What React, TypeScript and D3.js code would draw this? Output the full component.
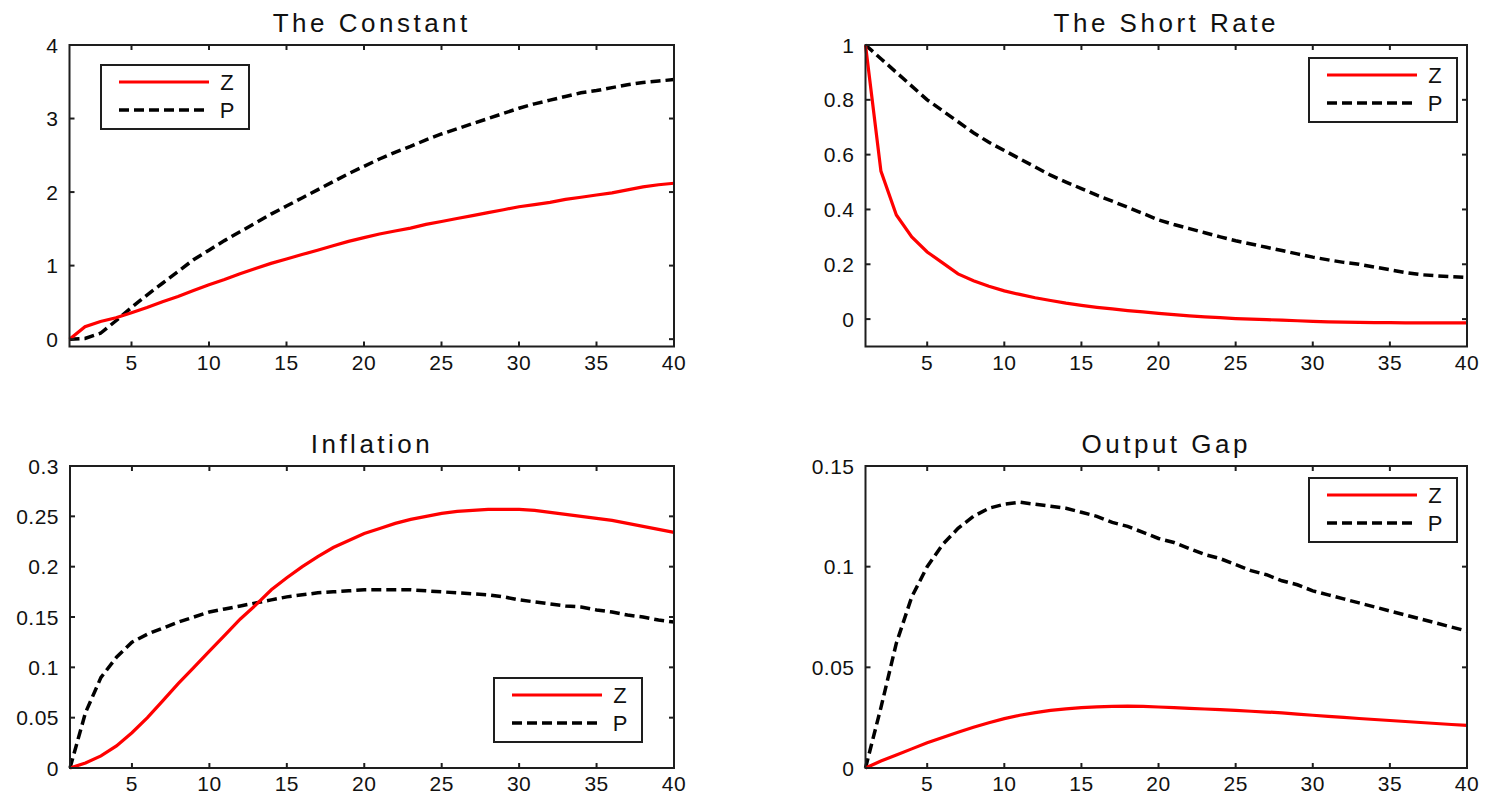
import React from "react";
import * as d3 from "d3";

// Horizon (quarters)
const horizon = d3.range(1, 41);
const xTicks = [5, 10, 15, 20, 25, 30, 35, 40];

const seriesNames = ["Z", "P"];

// The Constant
const constantZ = [0, 0.17, 0.24, 0.29, 0.36, 0.43, 0.51, 0.58, 0.66, 0.74, 0.81, 0.89, 0.96, 1.03, 1.09, 1.15, 1.21, 1.27, 1.33, 1.38, 1.43, 1.47, 1.51, 1.56, 1.6, 1.64, 1.68, 1.72, 1.76, 1.8, 1.83, 1.86, 1.9, 1.93, 1.96, 1.99, 2.03, 2.07, 2.1, 2.12];
const constantP = [0, 0.01, 0.08, 0.25, 0.43, 0.6, 0.76, 0.92, 1.08, 1.21, 1.34, 1.46, 1.58, 1.7, 1.81, 1.92, 2.03, 2.14, 2.25, 2.35, 2.45, 2.54, 2.62, 2.71, 2.79, 2.86, 2.93, 3.0, 3.07, 3.14, 3.2, 3.25, 3.3, 3.35, 3.38, 3.42, 3.46, 3.49, 3.51, 3.53];
const constantYTicks = [0, 1, 2, 3, 4];

// The Short Rate
const shortZ = [1, 0.54, 0.38, 0.3, 0.245, 0.205, 0.165, 0.14, 0.12, 0.103, 0.09, 0.078, 0.068, 0.058, 0.05, 0.043, 0.037, 0.031, 0.026, 0.021, 0.016, 0.012, 0.008, 0.005, 0.002, 0, -0.002, -0.004, -0.006, -0.008, -0.01, -0.011, -0.012, -0.013, -0.013, -0.014, -0.014, -0.014, -0.014, -0.014];
const shortP = [1, 0.95, 0.9, 0.85, 0.8, 0.76, 0.72, 0.68, 0.645, 0.615, 0.585, 0.555, 0.525, 0.5, 0.476, 0.452, 0.43, 0.408, 0.385, 0.362, 0.345, 0.33, 0.315, 0.3, 0.286, 0.274, 0.262, 0.25, 0.238, 0.226, 0.216, 0.207, 0.2, 0.19, 0.18, 0.17, 0.162, 0.158, 0.155, 0.152];
const shortYTicks = [0, 0.2, 0.4, 0.6, 0.8, 1];

// Inflation
const inflationZ = [0, 0.005, 0.012, 0.022, 0.035, 0.05, 0.067, 0.084, 0.1, 0.116, 0.132, 0.148, 0.162, 0.177, 0.189, 0.2, 0.21, 0.219, 0.226, 0.233, 0.238, 0.243, 0.247, 0.25, 0.253, 0.255, 0.256, 0.257, 0.257, 0.257, 0.256, 0.254, 0.252, 0.25, 0.248, 0.246, 0.243, 0.24, 0.237, 0.234];
const inflationP = [0, 0.055, 0.09, 0.11, 0.125, 0.133, 0.139, 0.145, 0.15, 0.155, 0.158, 0.161, 0.164, 0.167, 0.17, 0.172, 0.174, 0.175, 0.176, 0.177, 0.177, 0.177, 0.177, 0.176, 0.175, 0.174, 0.173, 0.172, 0.17, 0.167, 0.165, 0.163, 0.161, 0.16, 0.157, 0.155, 0.152, 0.15, 0.147, 0.145];
const inflationYTicks = [0, 0.05, 0.1, 0.15, 0.2, 0.25, 0.3];

// Output Gap
const gapZ = [0, 0.0035, 0.0065, 0.0095, 0.0125, 0.0152, 0.0178, 0.0202, 0.0225, 0.0245, 0.0262, 0.0275, 0.0286, 0.0294, 0.03, 0.0304, 0.0306, 0.0307, 0.0306, 0.0303, 0.03, 0.0296, 0.0293, 0.029, 0.0286, 0.0282, 0.0278, 0.0274, 0.0268, 0.0262, 0.0256, 0.0251, 0.0246, 0.0241, 0.0236, 0.0231, 0.0226, 0.0221, 0.0216, 0.0212];
const gapP = [0, 0.03, 0.062, 0.085, 0.1, 0.111, 0.119, 0.125, 0.129, 0.131, 0.132, 0.131, 0.13, 0.129, 0.127, 0.125, 0.122, 0.12, 0.117, 0.114, 0.112, 0.109, 0.106, 0.104, 0.101, 0.098, 0.096, 0.093, 0.091, 0.088, 0.086, 0.084, 0.082, 0.08, 0.078, 0.076, 0.074, 0.072, 0.07, 0.068];
const gapYTicks = [0, 0.05, 0.1, 0.15];

const FONT = "'Liberation Sans', Arial, sans-serif";
const AXIS = "#1e1e1e";

type PanelCfg = {
  title: string;
  z: number[];
  p: number[];
  yDomain: [number, number];
  yTicks: number[];
  l: number;
  r: number;
  t: number;
  b: number;
  legendX: number;
  legendY: number;
};

const panels: PanelCfg[] = [
  { title: "The Constant", z: constantZ, p: constantP, yDomain: [-0.1, 4], yTicks: constantYTicks, l: 69.5, r: 674, t: 45, b: 346.5, legendX: 101, legendY: 65 },
  { title: "The Short Rate", z: shortZ, p: shortP, yDomain: [-0.1, 1], yTicks: shortYTicks, l: 865.5, r: 1467, t: 45, b: 346.5, legendX: 1309, legendY: 58 },
  { title: "Inflation", z: inflationZ, p: inflationP, yDomain: [0, 0.3], yTicks: inflationYTicks, l: 70, r: 674, t: 466, b: 768, legendX: 494, legendY: 678 },
  { title: "Output Gap", z: gapZ, p: gapP, yDomain: [0, 0.15], yTicks: gapYTicks, l: 865.5, r: 1467, t: 466, b: 768, legendX: 1309, legendY: 478 },
];

function Panel({ cfg }: { cfg: PanelCfg }) {
  const x = d3.scaleLinear().domain([1, 40]).range([cfg.l, cfg.r]);
  const y = d3.scaleLinear().domain(cfg.yDomain).range([cfg.b, cfg.t]);
  const line = d3
    .line<number>()
    .x((_, i) => x(horizon[i]))
    .y((d) => y(d));
  const tl = 5;
  const fmt = (v: number) => String(+v.toFixed(3));
  const cx = (cfg.l + cfg.r) / 2;
  const lw = 148;
  const lh = 64;
  return (
    <g>
      <text x={cx} y={cfg.t - 13} textAnchor="middle" fontFamily={FONT} fontSize={26} letterSpacing={3.5} fill="#111">
        {cfg.title}
      </text>
      {/* series */}
      <path d={line(cfg.p) || ""} fill="none" stroke="#000" strokeWidth={3.5} strokeDasharray="10,5" />
      <path d={line(cfg.z) || ""} fill="none" stroke="#ff0000" strokeWidth={3.2} />
      {/* axes box */}
      <rect x={cfg.l} y={cfg.t} width={cfg.r - cfg.l} height={cfg.b - cfg.t} fill="none" stroke={AXIS} strokeWidth={2} />
      {xTicks.map((v) => (
        <g key={"x" + v}>
          <line x1={x(v)} x2={x(v)} y1={cfg.b} y2={cfg.b - tl} stroke={AXIS} strokeWidth={2} />
          <line x1={x(v)} x2={x(v)} y1={cfg.t} y2={cfg.t + tl} stroke={AXIS} strokeWidth={2} />
          <text x={x(v)} y={cfg.b + 23} textAnchor="middle" fontFamily={FONT} fontSize={21} letterSpacing={0.5} fill="#111">
            {v}
          </text>
        </g>
      ))}
      {cfg.yTicks.map((v) => (
        <g key={"y" + v}>
          <line x1={cfg.l} x2={cfg.l + tl} y1={y(v)} y2={y(v)} stroke={AXIS} strokeWidth={2} />
          <line x1={cfg.r} x2={cfg.r - tl} y1={y(v)} y2={y(v)} stroke={AXIS} strokeWidth={2} />
          <text x={cfg.l - 11} y={y(v) + 7.5} textAnchor="end" fontFamily={FONT} fontSize={21} letterSpacing={0.5} fill="#111">
            {fmt(v)}
          </text>
        </g>
      ))}
      {/* legend */}
      <g transform={`translate(${cfg.legendX},${cfg.legendY})`}>
        <rect x={0} y={0} width={lw} height={lh} fill="#fff" stroke={AXIS} strokeWidth={2} />
        <line x1={18} x2={108} y1={17} y2={17} stroke="#ff0000" strokeWidth={3.2} />
        <line x1={18} x2={108} y1={45} y2={45} stroke="#000" strokeWidth={3.5} strokeDasharray="10,5" />
        <text x={126} y={25} textAnchor="middle" fontFamily={FONT} fontSize={22} fill="#111">
          {seriesNames[0]}
        </text>
        <text x={126} y={53} textAnchor="middle" fontFamily={FONT} fontSize={22} fill="#111">
          {seriesNames[1]}
        </text>
      </g>
    </g>
  );
}

export default function App() {
  return (
    <svg
      width={1485}
      height={796}
      style={{ position: "absolute", left: 0, top: 0, background: "#fff" }}
    >
      <rect x={0} y={0} width={1485} height={796} fill="#fff" />
      {panels.map((p) => (
        <Panel key={p.title} cfg={p} />
      ))}
    </svg>
  );
}
